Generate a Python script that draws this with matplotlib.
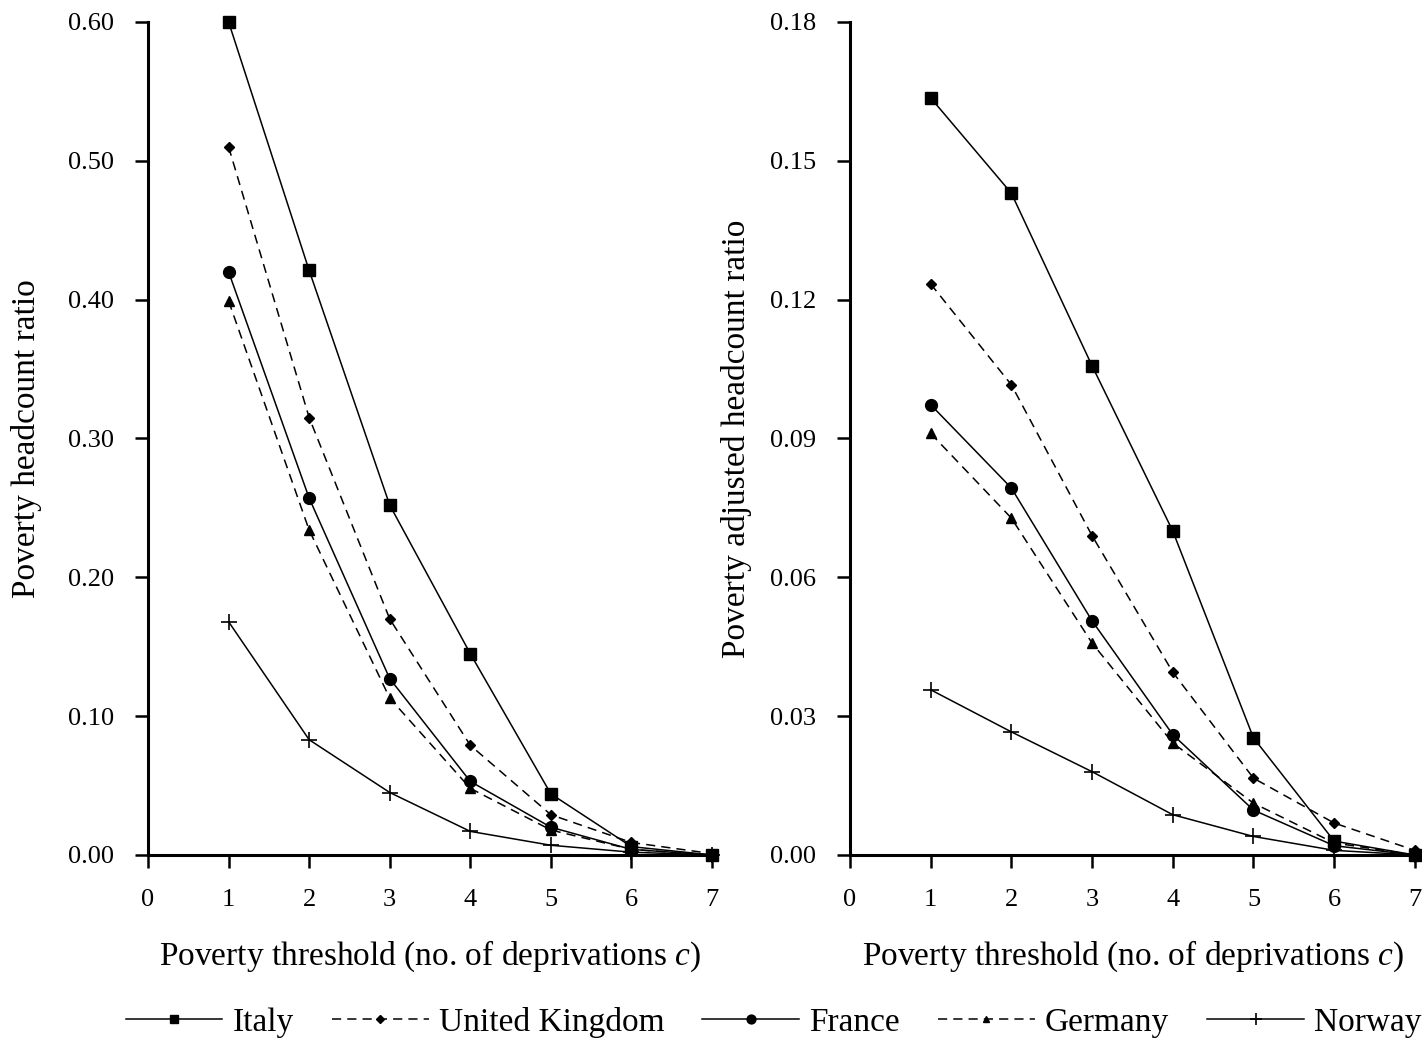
import matplotlib
matplotlib.use('Agg')
import matplotlib.pyplot as plt

plt.rcParams['font.family'] = ['Liberation Serif', 'DejaVu Serif']
plt.rcParams['mathtext.fontset'] = 'custom'
plt.rcParams['mathtext.it'] = 'Liberation Serif:italic'
plt.rcParams['mathtext.rm'] = 'Liberation Serif'

thresholds = [1, 2, 3, 4, 5, 6, 7]
countries = ['Italy', 'United Kingdom', 'France', 'Germany', 'Norway']

# headcount ratio H
italy_h = [0.600, 0.421, 0.252, 0.145, 0.044, 0.006, 0.000]
uk_h = [0.510, 0.315, 0.170, 0.079, 0.029, 0.009, 0.001]
france_h = [0.420, 0.257, 0.127, 0.053, 0.020, 0.004, 0.000]
germany_h = [0.399, 0.234, 0.113, 0.048, 0.018, 0.004, 0.000]
norway_h = [0.168, 0.083, 0.045, 0.017, 0.007, 0.002, 0.000]

# adjusted headcount ratio M0
italy_m = [0.1636, 0.1430, 0.1057, 0.0700, 0.0253, 0.0030, 0.0000]
uk_m = [0.1234, 0.1016, 0.0690, 0.0395, 0.0166, 0.0069, 0.0010]
france_m = [0.0973, 0.0793, 0.0506, 0.0260, 0.0097, 0.0020, 0.0000]
germany_m = [0.0911, 0.0728, 0.0458, 0.0242, 0.0112, 0.0026, 0.0000]
norway_m = [0.0357, 0.0266, 0.0180, 0.0087, 0.0040, 0.0010, 0.0000]

dash = (0, (6, 4))
styles = {
    'Italy': dict(marker='s', linestyle='-', markersize=8),
    'United Kingdom': dict(marker='D', linestyle=dash, markersize=5),
    'France': dict(marker='o', linestyle='-', markersize=8.5),
    'Germany': dict(marker='^', linestyle=dash, markersize=6.5),
    'Norway': dict(marker='+', linestyle='-', markersize=12, markeredgewidth=1.2),
}

fig = plt.figure(figsize=(14.22, 10.4), dpi=100)
ax1 = fig.add_axes([0.1041, 0.1779, 0.3966, 0.8010])
ax2 = fig.add_axes([0.5977, 0.1779, 0.3973, 0.8010])

panels = [
    (ax1, [italy_h, uk_h, france_h, germany_h, norway_h], 0.60, 0.10,
     'Poverty headcount ratio', -0.188),
    (ax2, [italy_m, uk_m, france_m, germany_m, norway_m], 0.18, 0.03,
     'Poverty adjusted headcount ratio', -0.1734),
]

for ax, series, ymax, step, ylabel, ylab_x in panels:
    for name, vals in zip(countries, series):
        ax.plot(thresholds, vals, color='black', linewidth=1.1, clip_on=False,
                label=name, **styles[name])
    ax.set_xlim(0, 7)
    ax.set_ylim(0, ymax)
    ax.set_xticks(range(8))
    yt = [round(i * step, 2) for i in range(int(round(ymax / step)) + 1)]
    ax.set_yticks(yt)
    ax.set_yticklabels([f'{v:.2f}' for v in yt])
    ax.spines['top'].set_visible(False)
    ax.spines['right'].set_visible(False)
    ax.spines['left'].set_linewidth(2.2)
    ax.spines['bottom'].set_linewidth(2.2)
    ax.tick_params(direction='out', length=9.5, width=1.8, labelsize=19, pad=15)
    ax.set_xlabel('Poverty threshold (no. of deprivations $\\mathit{c}$)', fontsize=24)
    ax.xaxis.set_label_coords(0.5, -0.100)
    ax.set_ylabel(ylabel, fontsize=24)
    ax.yaxis.set_label_coords(ylab_x, 0.5)

handles, labels = ax1.get_legend_handles_labels()
fig.legend(handles, labels, loc='center', ncol=5, frameon=False, fontsize=24,
           bbox_to_anchor=(0.544, 0.017), handlelength=2.9, columnspacing=1.15,
           handletextpad=0.3, markerscale=0.75)

plt.savefig('out.png', dpi=100)
plt.close()
